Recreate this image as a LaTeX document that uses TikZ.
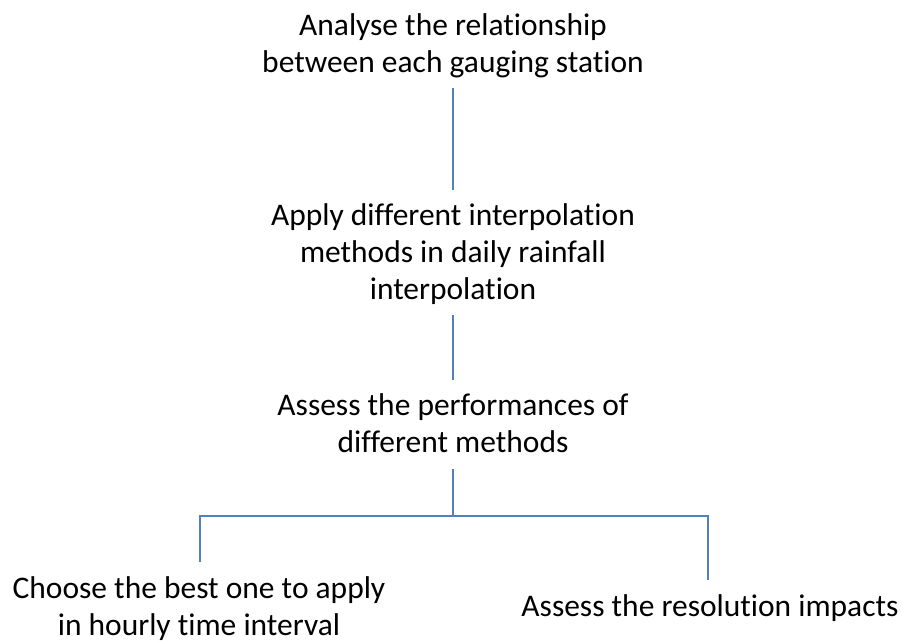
\documentclass[tikz,border=0pt]{standalone}
\usepackage{fontspec}
\setmainfont{Carlito}[Ligatures=NoCommon]
\usetikzlibrary{calc}
\definecolor{linkblue}{HTML}{4F81BD}
\tikzset{
  steptext/.style={align=center, anchor=base, inner sep=0pt,
    font=\fontsize{23.6}{27.75}\selectfont, text=black},
  linkline/.style={draw=linkblue, line width=1.1pt}
}
\begin{document}
\begin{tikzpicture}[x=0.75pt, y=-0.75pt]
\useasboundingbox[fill=white] (0,0) rectangle (902,641);
\node[steptext] (t1) at (453,73) {Analyse the relationship\\between each gauging station};
\node[steptext] (t2) at (453,300) {Apply different interpolation\\methods in daily rainfall\\interpolation};
\node[steptext] (t3) at (453,452) {Assess the performances of\\different methods};
\node[steptext] (t4) at (199,635) {Choose the best one to apply\\in hourly time interval};
\node[steptext] (t5) at (710,616) {Assess the resolution impacts};
\coordinate (j) at (453,516);
\coordinate (l1) at ($(t4.base)+(1,-73)$);
\coordinate (r1) at ($(t5.base)+(-2,-36)$);
\draw[linkline] (t1.base) ++(0,15) -- ($(t2.base)+(0,-110)$);
\draw[linkline] (t2.base) ++(0,15) -- ($(t3.base)+(0,-72)$);
\draw[linkline] (t3.base) ++(0,17) -- (j);
\draw[linkline] (l1) -- (l1 |- j) -- (r1 |- j) -- (r1);
\end{tikzpicture}
\end{document}
